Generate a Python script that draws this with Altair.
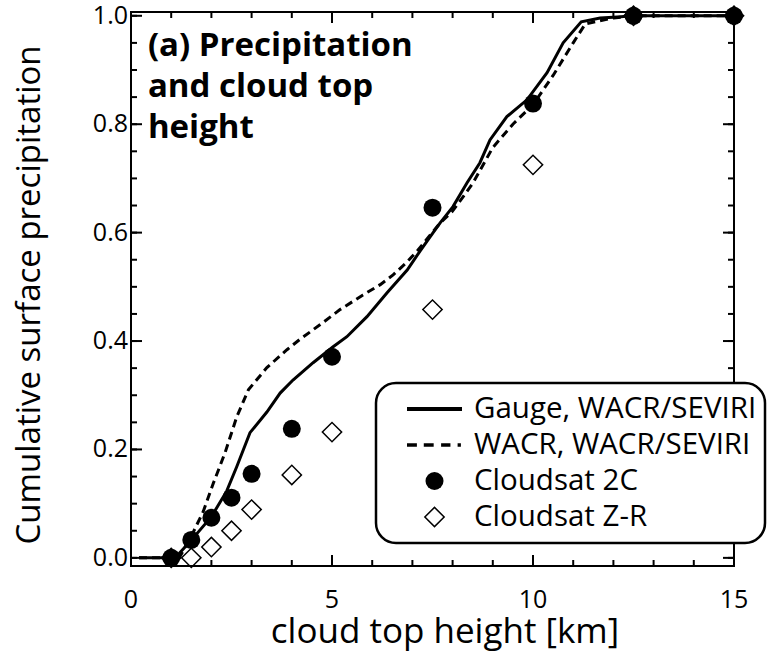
import altair as alt
import pandas as pd

# Cumulative fraction of surface precipitation vs. cloud top height
gauge_km = [0.2, 1.1, 1.47, 2.0, 2.38, 2.63, 2.96, 3.38, 3.71, 4.03, 4.53, 5.02,
            5.37, 5.87, 6.37, 6.87, 7.19, 7.44, 7.69, 8.01, 8.36, 8.68, 8.93,
            9.35, 9.85, 10.35, 10.75, 11.2, 11.67, 12.1, 12.5, 15.0]
gauge_frac = [0.0, 0.0, 0.030, 0.076, 0.123, 0.168, 0.231, 0.269, 0.304, 0.328,
              0.360, 0.389, 0.408, 0.445, 0.489, 0.531, 0.566, 0.592, 0.618,
              0.648, 0.692, 0.729, 0.771, 0.814, 0.845, 0.895, 0.950, 0.989,
              0.996, 0.998, 1.0, 1.0]

wacr_km = [0.2, 1.2, 1.54, 1.8, 2.05, 2.34, 2.63, 2.92, 3.38, 3.88, 4.2, 4.7,
           5.2, 5.77, 6.2, 6.52, 6.87, 7.14, 7.69, 7.98, 8.26, 8.51, 9.0, 9.5,
           10.0, 10.5, 11.0, 11.3, 12.0, 12.5, 15.0]
wacr_frac = [0.0, 0.0, 0.046, 0.086, 0.138, 0.194, 0.260, 0.310, 0.351, 0.384,
             0.403, 0.430, 0.458, 0.485, 0.504, 0.522, 0.546, 0.568, 0.618,
             0.638, 0.666, 0.692, 0.757, 0.800, 0.836, 0.890, 0.950, 0.985,
             0.996, 1.0, 1.0]

cs_km = [1.0, 1.5, 2.0, 2.5, 3.0, 4.0, 5.0, 7.5, 10.0, 12.5, 15.0]
cs2c_frac = [0.0, 0.033, 0.074, 0.111, 0.155, 0.238, 0.371, 0.646, 0.838, 1.0, 1.0]
cszr_frac = [0.0, 0.0, 0.020, 0.050, 0.089, 0.153, 0.232, 0.458, 0.725, 1.0, 1.0]

series_names = ["Gauge, WACR/SEVIRI", "WACR, WACR/SEVIRI", "Cloudsat 2C", "Cloudsat Z-R"]

x_major = [0, 5, 10, 15]
x_minor = list(range(16))
y_major = [0.0, 0.2, 0.4, 0.6, 0.8, 1.0]
y_minor = [round(i * 0.05, 2) for i in range(21)]

x_title = "cloud top height [km]"
y_title = "Cumulative surface precipitation"
panel_lines = ["(a) Precipitation", "and cloud top", "height"]
panel_anchor = {"km": [0.42], "frac": [0.974]}

FONT = "Open Sans"
W, H = 603, 554
MAJOR, MINOR = 11, 6
X_LO, X_HI = 0.0, 15.0
Y_LO, Y_HI = -0.015, 1.007

gauge_df = pd.DataFrame({"km": gauge_km, "frac": gauge_frac})
wacr_df = pd.DataFrame({"km": wacr_km, "frac": wacr_frac})
points_df = pd.concat([
    pd.DataFrame({"km": cs_km, "frac": cszr_frac, "series": series_names[3]}),
    pd.DataFrame({"km": cs_km, "frac": cs2c_frac, "series": series_names[2]}),
], ignore_index=True)
note_df = pd.DataFrame({**panel_anchor, "label": ["\n".join(panel_lines)]})
xlab_df = pd.DataFrame({"v": x_major, "txt": [str(v) for v in x_major]})
ylab_df = pd.DataFrame({"v": y_major, "txt": [f"{v:.1f}" for v in y_major]})

xs = alt.Scale(domain=[X_LO, X_HI], nice=False, zero=False)
ys = alt.Scale(domain=[Y_LO, Y_HI], nice=False, zero=False)


def X(field):
    return alt.X(field, scale=xs, axis=None)


def Y(field):
    return alt.Y(field, scale=ys, axis=None)


# legend / marker glyphs as filled unit-square paths (scaled by sqrt(size)/2)
solid_glyph = "M-1,-0.073H1V0.073H-1Z"
dash_glyph = ("M-1,-0.065H-0.64V0.065H-1Z M-0.39,-0.065H-0.03V0.065H-0.39Z "
              "M0.24,-0.065H0.58V0.065H0.24Z M0.84,-0.065H0.96V0.065H0.84Z")
diamond_ring = "M0,-1.07L1.07,0L0,1.07L-1.07,0Z M0,-0.86L-0.86,0L0,0.86L0.86,0Z"

legend = alt.Legend(title=None, orient="none", legendX=245, legendY=371,
                    padding=8, symbolOffset=23, labelOffset=12, clipHeight=36,
                    rowPadding=0, labelFontSize=29.5, labelLimit=400, labelFont=FONT,
                    labelColor="black", fillColor="white", strokeColor="black",
                    cornerRadius=20, symbolFillColor="black", symbolStrokeWidth=0,
                    symbolOpacity=1)

solid = alt.Chart(gauge_df).mark_line(color="black", strokeWidth=3).encode(
    x=X("km:Q"), y=Y("frac:Q"),
)

dashed = alt.Chart(wacr_df).mark_line(color="black", strokeWidth=3, strokeDash=[8, 5]).encode(
    x=X("km:Q"), y=Y("frac:Q"),
)

points = alt.Chart(points_df).mark_point(filled=True, color="black", strokeWidth=0, opacity=1).encode(
    x=X("km:Q"), y=Y("frac:Q"),
    shape=alt.Shape("series:N", legend=legend,
                    scale=alt.Scale(domain=series_names,
                                    range=[solid_glyph, dash_glyph, "circle", diamond_ring])),
    size=alt.Size("series:N", legend=legend,
                  scale=alt.Scale(type="ordinal", domain=series_names,
                                  range=[3025, 3025, 324, 400])),
)

note = alt.Chart(note_df).mark_text(
    align="left", baseline="top", font=FONT, fontSize=33, fontWeight="bold",
    lineHeight=41, lineBreak="\n", color="black",
).encode(x=X("km:Q"), y=Y("frac:Q"), text="label:N")

# tick labels and axis titles
x_labels = alt.Chart(xlab_df).mark_text(
    font=FONT, fontSize=25, color="black", align="center", baseline="middle",
).encode(x=X("v:Q"), y=alt.value(H + 34), text="txt:N")

y_labels = alt.Chart(ylab_df).mark_text(
    font=FONT, fontSize=25, color="black", align="right", baseline="middle",
).encode(y=Y("v:Q"), x=alt.value(-3), text="txt:N")

x_title_mark = alt.Chart(pd.DataFrame({"txt": [x_title]})).mark_text(
    font=FONT, fontSize=35, color="black", align="center", baseline="middle",
).encode(x=alt.value(314), y=alt.value(H + 66), text="txt:N")

y_title_mark = alt.Chart(pd.DataFrame({"txt": [y_title]})).mark_text(
    font=FONT, fontSize=33, color="black", align="center", baseline="middle", angle=270,
).encode(x=alt.value(-101), y=alt.value(283), text="txt:N")

# inward-pointing frame ticks; lengths converted from pixels to data units
KM_PER_PX = (X_HI - X_LO) / W
FRAC_PER_PX = (Y_HI - Y_LO) / H


def x_ticks(values, length, top):
    edge = Y_HI if top else Y_LO
    tip = edge - length * FRAC_PER_PX if top else edge + length * FRAC_PER_PX
    return alt.Chart(pd.DataFrame({"v": values})).mark_rule(color="black", strokeWidth=2).encode(
        x=X("v:Q"), y=alt.datum(edge, scale=ys, axis=None), y2=alt.datum(tip))


def y_ticks(values, length, right):
    edge = X_HI if right else X_LO
    tip = edge - length * KM_PER_PX if right else edge + length * KM_PER_PX
    return alt.Chart(pd.DataFrame({"v": values})).mark_rule(color="black", strokeWidth=2).encode(
        y=Y("v:Q"), x=alt.datum(edge, scale=xs, axis=None), x2=alt.datum(tip))


ticks = [
    x_ticks(x_minor, MINOR, False), x_ticks(x_major, MAJOR, False),
    x_ticks(x_minor, MINOR, True), x_ticks(x_major, MAJOR, True),
    y_ticks(y_minor, MINOR, False), y_ticks(y_major, MAJOR, False),
    y_ticks(y_minor, MINOR, True), y_ticks(y_major, MAJOR, True),
]

chart = alt.layer(
    solid, dashed, points, note, x_labels, y_labels, x_title_mark, y_title_mark, *ticks
).properties(
    width=W, height=H,
    padding={"left": 131, "top": 12, "right": 42, "bottom": 94},
    autosize=alt.AutoSizeParams(type="none"),
).configure(font=FONT).configure_view(
    stroke="black", strokeWidth=2
).configure_legend(strokeWidth=2.5)

chart.save("out.html", embed_options={"renderer": "svg", "actions": False})
